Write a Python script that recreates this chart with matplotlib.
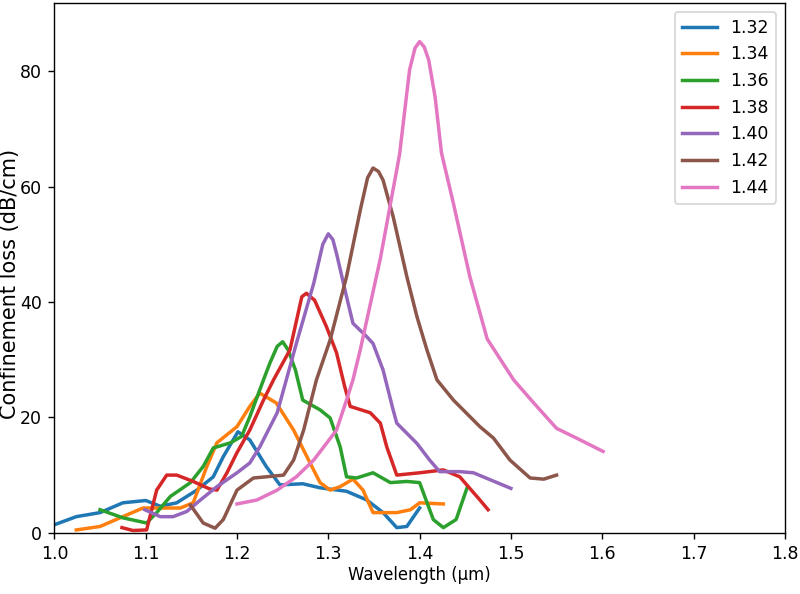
import matplotlib
matplotlib.use("Agg")
import matplotlib.pyplot as plt

labels = ["1.32", "1.34", "1.36", "1.38", "1.40", "1.42", "1.44"]

# wavelength (um) / loss (dB/cm)
wl_132 = [1.0, 1.024, 1.05, 1.075, 1.1, 1.116, 1.134, 1.156, 1.174, 1.185, 1.201, 1.214, 1.232,
          1.247, 1.272, 1.291, 1.32, 1.342, 1.36, 1.375, 1.386, 1.40]
loss_132 = [1.4, 2.8, 3.5, 5.2, 5.6, 4.6, 5.2, 7.4, 9.7, 13.2, 17.5, 16.1, 11.5,
            8.3, 8.5, 7.8, 7.2, 5.7, 3.5, 0.9, 1.1, 4.3]

wl_134 = [1.024, 1.05, 1.075, 1.097, 1.116, 1.138, 1.152, 1.167, 1.178, 1.2, 1.214, 1.225, 1.243,
          1.262, 1.28, 1.291, 1.302, 1.313, 1.327, 1.338, 1.349, 1.375, 1.39, 1.40, 1.426]
loss_134 = [0.5, 1.1, 2.8, 4.3, 4.3, 4.3, 5.2, 11.5, 15.6, 18.4, 21.9, 24.2, 22.5,
            17.8, 12.1, 8.7, 7.4, 8.0, 9.3, 7.4, 3.5, 3.5, 4.0, 5.2, 5.0]

wl_136 = [1.05, 1.075, 1.101, 1.112, 1.127, 1.149, 1.163, 1.174, 1.193, 1.205, 1.214, 1.229,
          1.236, 1.244, 1.25, 1.256, 1.264, 1.272, 1.291, 1.302, 1.313, 1.32, 1.331, 1.349, 1.368,
          1.386, 1.40, 1.415, 1.426, 1.44, 1.452]
loss_136 = [4.0, 2.6, 1.7, 3.5, 6.3, 8.7, 11.5, 14.7, 15.6, 16.7, 20.1, 26.5,
            29.4, 32.3, 33.1, 31.7, 28.2, 23.0, 21.3, 19.9, 14.9, 9.7, 9.5, 10.4, 8.7,
            8.9, 8.7, 2.3, 0.9, 2.3, 7.8]

wl_138 = [1.074, 1.086, 1.101, 1.112, 1.123, 1.134, 1.152, 1.17, 1.178, 1.189, 1.2, 1.214, 1.229,
          1.24, 1.258, 1.271, 1.276, 1.285, 1.298, 1.309, 1.318, 1.324, 1.346, 1.357, 1.364,
          1.375, 1.40, 1.426, 1.444, 1.466, 1.475]
loss_138 = [0.9, 0.4, 0.5, 7.4, 10.0, 10.0, 8.9, 7.6, 7.4, 10.4, 13.9, 17.8, 23.0,
            26.5, 31.7, 40.9, 41.5, 40.3, 35.7, 31.2, 25.3, 21.9, 20.8, 19.0, 14.9,
            10.0, 10.4, 10.9, 9.7, 5.7, 4.0]

wl_140 = [1.099, 1.116, 1.13, 1.145, 1.16, 1.178, 1.2, 1.214, 1.225, 1.244, 1.254, 1.265, 1.284,
          1.294, 1.30, 1.305, 1.309, 1.32, 1.327, 1.342, 1.349, 1.36, 1.371, 1.375, 1.397, 1.411,
          1.422, 1.444, 1.459, 1.50]
loss_140 = [4.0, 2.8, 2.8, 3.7, 5.7, 8.0, 10.4, 12.1, 14.9, 20.8, 26.5, 32.8, 43.2,
            50.0, 51.8, 50.8, 48.4, 40.9, 36.3, 34.0, 32.8, 28.2, 21.3, 19.0, 15.5, 12.6,
            10.6, 10.6, 10.4, 7.7]

wl_142 = [1.149, 1.163, 1.176, 1.185, 1.2, 1.218, 1.232, 1.251, 1.262, 1.273, 1.287, 1.302,
          1.32, 1.335, 1.343, 1.349, 1.355, 1.36, 1.371, 1.386, 1.397, 1.408, 1.419, 1.437,
          1.466, 1.481, 1.499, 1.521, 1.536, 1.55]
loss_142 = [4.8, 1.7, 0.8, 2.3, 7.4, 9.5, 9.7, 10.0, 12.6, 17.8, 26.5, 33.4,
            44.4, 55.9, 61.5, 63.2, 62.6, 61.1, 54.8, 44.4, 37.5, 31.7, 26.5, 23.0,
            18.4, 16.4, 12.6, 9.5, 9.3, 10.0]

wl_144 = [1.2, 1.222, 1.244, 1.265, 1.284, 1.298, 1.309, 1.32, 1.327, 1.335, 1.357, 1.378,
          1.389, 1.395, 1.40, 1.405, 1.41, 1.417, 1.424, 1.437, 1.455, 1.474, 1.503, 1.525,
          1.55, 1.572, 1.601]
loss_144 = [5.0, 5.7, 7.4, 9.7, 12.6, 15.5, 17.8, 23.0, 26.5, 31.7, 47.5, 65.5,
            80.2, 84.0, 85.1, 84.2, 81.9, 75.5, 65.8, 57.1, 44.4, 33.6, 26.5, 22.5,
            18.1, 16.4, 14.1]

wls = [wl_132, wl_134, wl_136, wl_138, wl_140, wl_142, wl_144]
losses = [loss_132, loss_134, loss_136, loss_138, loss_140, loss_142, loss_144]

fig, ax = plt.subplots(figsize=(6.4, 4.752), dpi=125)
fig.subplots_adjust(left=0.068, right=0.981, bottom=0.103, top=0.995)

for wl, loss, lab in zip(wls, losses, labels):
    ax.plot(wl, loss, label=lab, linewidth=2, solid_joinstyle="round")

ax.set_xlim(1.0, 1.8)
ax.set_ylim(0, 91.8)
ax.set_xlabel("Wavelength (μm)", fontsize=9.5, labelpad=2)
ax.set_ylabel("Confinement loss (dB/cm)", fontsize=12)
ax.yaxis.set_label_coords(-0.047, 0.47)
ax.legend(loc="upper right")

fig.savefig("out.png", dpi=125)
